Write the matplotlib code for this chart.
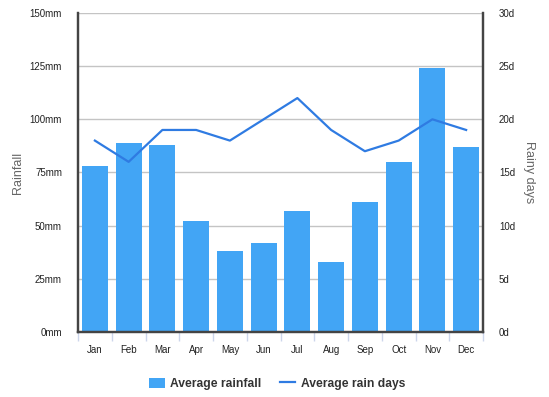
"""Monthly average rainfall (bars) and rain days (line) on twin axes."""

import matplotlib

matplotlib.use("Agg")
import matplotlib.pyplot as plt
from matplotlib.lines import Line2D
from matplotlib.patches import Patch
from matplotlib.ticker import FixedLocator

MONTHS = ["Jan", "Feb", "Mar", "Apr", "May", "Jun", "Jul", "Aug", "Sep", "Oct", "Nov", "Dec"]
RAINFALL_MM = [78, 89, 88, 52, 38, 42, 57, 33, 61, 80, 124, 87]
RAIN_DAYS = [18, 16, 19, 19, 18, 20, 22, 19, 17, 18, 20, 19]
RAINFALL_TICKS = [0, 25, 50, 75, 100, 125, 150]
DAYS_TICKS = [0, 5, 10, 15, 20, 25, 30]

BAR_COLOR = "#42a5f5"
LINE_COLOR = "#2f7be2"
SPINE_COLOR = "#444444"

plt.rcParams["font.family"] = ["Liberation Sans", "DejaVu Sans"]

fig = plt.figure(figsize=(5.49, 3.97), dpi=100)
ax = fig.add_axes([0.1421, 0.1637, 0.7377, 0.8036])
x = list(range(len(MONTHS)))

ax.bar(x, RAINFALL_MM, width=0.77, color=BAR_COLOR, zorder=2)
ax.set_xlim(-0.5, len(MONTHS) - 0.5)
ax.set_ylim(0, 150)
ax.set_yticks(RAINFALL_TICKS)
ax.set_yticklabels([f"{v}mm" for v in RAINFALL_TICKS])
ax.yaxis.grid(True, color="#c4c4c4", linewidth=1.0, zorder=0)
ax.set_axisbelow(True)
ax.set_xticks(x)
ax.set_xticklabels(MONTHS)
ax.xaxis.set_minor_locator(FixedLocator([i - 0.5 for i in range(len(MONTHS) + 1)]))
ax.tick_params(axis="x", which="major", length=0, pad=9, labelsize=7, labelcolor="#222222")
ax.tick_params(axis="x", which="minor", length=6.5, width=1, color="#ccd6eb")
ax.tick_params(axis="y", length=0, pad=11.5, labelsize=7, labelcolor="#222222")
ax.set_ylabel("Rainfall", fontsize=9, color="#666666", labelpad=4)

ax2 = ax.twinx()
ax2.plot(x, RAIN_DAYS, color=LINE_COLOR, linewidth=1.6, zorder=3)
ax2.set_ylim(0, 30)
ax2.set_yticks(DAYS_TICKS)
ax2.set_yticklabels([f"{v}d" for v in DAYS_TICKS])
ax2.tick_params(axis="y", length=0, pad=11.5, labelsize=7, labelcolor="#222222")
ax2.set_ylabel("Rainy days", fontsize=9, color="#666666", rotation=270, labelpad=14)

for a in (ax, ax2):
    a.spines["top"].set_visible(False)
    for side in ("left", "right", "bottom"):
        a.spines[side].set_color(SPINE_COLOR)
        a.spines[side].set_linewidth(1.6)

handles = [
    Patch(facecolor=BAR_COLOR, edgecolor="none", label="Average rainfall"),
    Line2D([0], [0], color=LINE_COLOR, linewidth=1.6, label="Average rain days"),
]
leg = fig.legend(
    handles=handles,
    loc="center",
    bbox_to_anchor=(0.505, 0.033),
    ncol=2,
    frameon=False,
    prop={"size": 8.7, "weight": "bold"},
    handlelength=1.3,
    handleheight=0.9,
    handletextpad=0.45,
    columnspacing=1.5,
)
for text in leg.get_texts():
    text.set_color("#333333")

fig.savefig("out.png", dpi=100)
plt.close(fig)
